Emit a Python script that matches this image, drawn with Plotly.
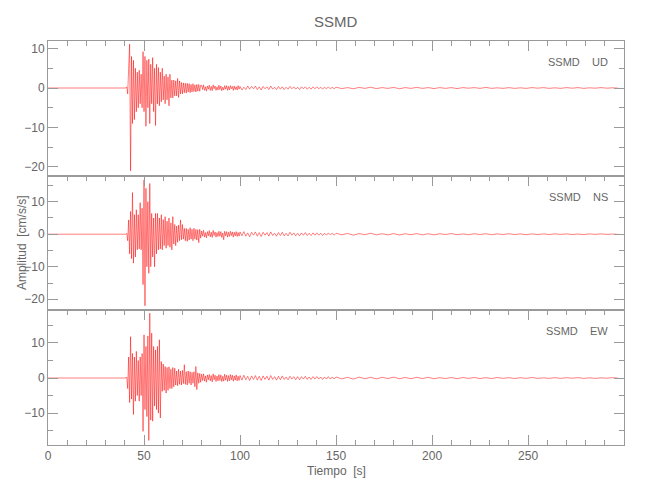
import numpy as np
import plotly.graph_objects as go

# ---------------- data ----------------
# Pre-event samples (time, value) – flat before the P arrival
t_pre = [0.0, 20.0, 40.5]
ud_pre = [0.0, 0.05, 0.0]
ns_pre = [0.0, -0.05, 0.0]
ew_pre = [0.0, 0.05, 0.0]

# Strong-motion part + early coda: samples every 0.5 s starting at 41.0 s
ud_fast = [0.3, -1.5, 5, 11.1, -21.0, 8, -9, 7, -8, 5,
           -6, 4, -5, 4.5, -4, 3.5, -5, 9.2, -6, 8,
           -9.7, 7, -5, 7.3, -9, 6, -4, 7.7, -6, 5,
           -9.5, 6, -4, 5.2, -4.5, 4, -3.5, 5, -3, 3,
           -4, 3.5, -3, 2.8, -4.5, 3.5, -2.5, 2, -2.5, 2,
           -2, 1.8, -2, 2.4, -2.4, 1.8, -1.5, 1.4, -1.5, 1.3,
           -1.2, 1.2, -1.3, 1.2, -1.0, 1.1, -1.2, 0.9, -1.0, 1.1,
           -0.9, 0.8, -1.0, 0.9, -0.8, 0.9, -0.8, 0.7,
           0.7, -0.4, 0.8, -0.6, 0.3, -0.8, 0.5, -0.3, 0.7, -0.6,
           0.4, -0.7, 0.8, -0.2, 0.5, -0.6, 0.3, -0.5, 0.7, -0.4,
           0.5, -0.7, 0.2, -0.5, 0.6, -0.3, 0.6, -0.6, 0.4, -0.5,
           0.6, -0.2, 0.4, -0.6, 0.5, -0.4, 0.3, -0.5, 0.6, -0.3]
ns_fast = [0.3, -2, 4.4, -6, 7, -7.5, 12.8, -8.9, 6, -7,
           7.5, -4.8, 6, -4.5, 9.7, -4.8, 8, -15.5, 16.7, -22.0,
           14.1, -10, 10, -12, 15.6, -10, 6.4, -7, 5, -10,
           6.4, -6, 6.4, -4.8, 5, -4.5, 6, -4.8, 4.5, -3.5,
           5.4, -4.3, 4, -3.5, 5, -4, 3.5, -4.8, 5.4, -3,
           3, -3.5, 2.5, -2.5, 2.8, -2, 4.4, -1.7, 3, -1.5,
           1.8, -2, 1.8, -2.2, 1.5, -1.8, 2, -1.5, 1.5, -2,
           1.8, -1.5, 1.5, -1.8, 1.4, -2.6, 1.5, -1.2,
           1.0, -0.6, 1.2, -0.9, 0.5, -1.1, 0.8, -0.5, 1.1, -0.8,
           0.6, -1.0, 1.2, -0.4, 0.7, -0.9, 0.5, -0.7, 0.9, -0.6,
           0.8, -1.0, 0.4, -1.7, 0.9, -0.5, 0.8, -0.9, 0.6, -0.7,
           0.9, -0.4, 0.7, -0.9, 0.6, -0.5, 0.8, -0.7, 0.5, -0.6]
ew_fast = [0.3, -3, 6, -7, 11.8, -6, 7, -10.4, 6, -6.6,
           7.6, -5, 5, -6.6, 6, -5, 7, -15.2, 12.3, -9,
           9, -11, 12, -17.8, 18.5, -12, 12.8, -12.3, 9, -8,
           8, -9, 9, -10, 10.9, -11.4, 4.7, -3.8, 4, -3.5,
           3.3, -4.3, 3, -3.5, 3.2, -3, 2.5, -3, 3, -2.5,
           2.8, -2, 2, -2.2, 2.5, -1.8, 2, -2, 2.2, -1.6,
           3.8, -1.8, 1.8, -2, 2, -1.5, 1.8, -2, 1.6, -1.5,
           1.8, -2.5, 3.3, -3.3, 1.5, -1.5, 1.3, -1.2,
           1.1, -0.7, 1.2, -0.9, 0.6, -1.2, 0.9, -0.5, 1.0, -0.8,
           0.7, -1.1, 1.2, -0.5, 0.8, -1.0, 0.6, -0.8, 1.0, -0.7,
           0.9, -1.0, 0.5, -0.9, 1.1, -0.6, 0.8, -1.0, 0.7, -0.8,
           1.0, -0.5, 0.8, -0.9, 0.6, -0.6, 0.9, -0.8, 0.5, -0.7]

# Coda: samples every 1 s starting at 100 s
ud_mid = [0.4, -0.5, 0.2, -0.4, 0.5, -0.3, 0.4, -0.2, 0.5, -0.4,
          0.3, -0.5, 0.4, -0.2, 0.3, -0.4, 0.5, -0.3, 0.2, -0.4,
          0.4, -0.3, 0.3, -0.4, 0.2, -0.3, 0.4, -0.2, 0.3, -0.3,
          0.2, -0.4, 0.3, -0.2, 0.3, -0.3, 0.2, -0.3, 0.3, -0.2,
          0.3, -0.2, 0.2, -0.3, 0.2, -0.2, 0.3, -0.2, 0.2, -0.2]
ns_mid = [0.7, -0.5, 0.8, -0.6, 0.4, -0.8, 0.6, -0.3, 0.7, -0.6,
          0.5, -0.7, 0.6, -0.3, 0.5, -0.6, 0.7, -0.4, 0.3, -0.6,
          0.5, -0.4, 0.6, -0.5, 0.3, -0.5, 0.6, -0.3, 0.4, -0.5,
          0.3, -0.5, 0.4, -0.3, 0.5, -0.4, 0.3, -0.4, 0.4, -0.3,
          0.4, -0.3, 0.3, -0.4, 0.3, -0.3, 0.4, -0.2, 0.3, -0.3]
ew_mid = [0.7, -0.6, 0.8, -0.5, 0.5, -0.7, 0.6, -0.4, 0.7, -0.6,
          0.5, -0.7, 0.6, -0.4, 0.5, -0.6, 0.7, -0.4, 0.4, -0.6,
          0.5, -0.5, 0.6, -0.4, 0.3, -0.5, 0.5, -0.3, 0.4, -0.5,
          0.4, -0.5, 0.4, -0.3, 0.5, -0.4, 0.3, -0.4, 0.4, -0.3,
          0.4, -0.3, 0.3, -0.4, 0.3, -0.3, 0.4, -0.3, 0.3, -0.3]

# Tail: samples every 3 s starting at 150 s
ud_tail = [0.2, -0.15, 0.1, -0.2, 0.15, -0.1, 0.2, -0.15, 0.1, -0.1,
           0.15, -0.2, 0.1, -0.1, 0.15, -0.1, 0.1, -0.15, 0.1, -0.1,
           0.1, -0.15, 0.1, -0.05, 0.1, -0.1, 0.15, -0.1, 0.05, -0.1,
           0.1, -0.1, 0.05, -0.1, 0.1, -0.05, 0.1, -0.1, 0.05, -0.1,
           0.1, -0.05, 0.1, -0.1, 0.05, -0.05, 0.1, -0.05, 0.05, -0.05]
ns_tail = [0.3, -0.2, 0.25, -0.3, 0.2, -0.15, 0.3, -0.2, 0.15, -0.2,
           0.2, -0.25, 0.15, -0.15, 0.2, -0.2, 0.15, -0.2, 0.15, -0.1,
           0.2, -0.15, 0.1, -0.15, 0.15, -0.1, 0.15, -0.15, 0.1, -0.1,
           0.15, -0.1, 0.1, -0.15, 0.1, -0.1, 0.1, -0.1, 0.1, -0.05,
           0.1, -0.1, 0.05, -0.1, 0.1, -0.05, 0.1, -0.05, 0.05, -0.05]
ew_tail = [0.3, -0.25, 0.2, -0.3, 0.25, -0.2, 0.2, -0.25, 0.2, -0.15,
           0.25, -0.2, 0.15, -0.2, 0.2, -0.15, 0.2, -0.2, 0.1, -0.15,
           0.15, -0.2, 0.15, -0.1, 0.15, -0.15, 0.1, -0.15, 0.15, -0.1,
           0.1, -0.15, 0.1, -0.1, 0.15, -0.1, 0.05, -0.1, 0.1, -0.1,
           0.1, -0.05, 0.1, -0.1, 0.05, -0.1, 0.05, -0.05, 0.1, -0.05]

components = ["UD", "NS", "EW"]
station = "SSMD"
y_ranges = [[-22.2, 11.9], [-23.4, 18.0], [-19.1, 19.3]]
x_ticks = [0, 50, 100, 150, 200, 250]


def build(pre, fast, mid, tail):
    t = (list(t_pre)
         + list(41.0 + 0.5 * np.arange(len(fast)))
         + list(100.0 + 1.0 * np.arange(len(mid)))
         + list(150.0 + 3.0 * np.arange(len(tail))))
    v = list(pre) + list(fast) + list(mid) + list(tail)
    return t, v


traces = [build(ud_pre, ud_fast, ud_mid, ud_tail),
          build(ns_pre, ns_fast, ns_mid, ns_tail),
          build(ew_pre, ew_fast, ew_mid, ew_tail)]

# ---------------- figure ----------------
GRAY = "#9a9a9a"
TXT = "#666666"
FONT = "Liberation Sans, Arial, sans-serif"

fig = go.Figure()
domains = [[2 / 3, 1.0], [1 / 3, 2 / 3], [0.0, 1 / 3]]

for i, (t, v) in enumerate(traces):
    n = i + 1
    xa = "x" if n == 1 else f"x{n}"
    ya = "y" if n == 1 else f"y{n}"
    fig.add_trace(go.Scatter(x=t, y=v, mode="lines", xaxis=xa, yaxis=ya,
                             line=dict(color="rgba(255,0,0,0.85)", width=0.6),
                             showlegend=False, hoverinfo="skip"))

    last = (n == 3)
    xkey = "xaxis" if n == 1 else f"xaxis{n}"
    ykey = "yaxis" if n == 1 else f"yaxis{n}"
    fig.layout[xkey] = dict(
        anchor=ya, domain=[0, 1], range=[0, 299.95],
        side="bottom" if last else "top",
        tickmode="array", tickvals=x_ticks,
        ticks="inside", ticklen=10, tickcolor=GRAY, tickwidth=1,
        minor=dict(dtick=10, tick0=0, ticks="inside", ticklen=5,
                   tickcolor=GRAY, showgrid=False),
        showline=True, linecolor=GRAY, linewidth=1,
        mirror="ticks" if last else True,
        showticklabels=last, showgrid=False, zeroline=False,
        tickfont=dict(family=FONT, size=12, color=TXT),
        matches=None if n == 1 else "x",
    )
    fig.layout[ykey] = dict(
        anchor=xa, domain=domains[i], range=y_ranges[i],
        tick0=0, dtick=10,
        ticks="inside", ticklen=10, tickcolor=GRAY, tickwidth=1,
        minor=dict(dtick=5, tick0=0, ticks="inside", ticklen=5,
                   tickcolor=GRAY, showgrid=False),
        showline=True, linecolor=GRAY, linewidth=1, mirror="ticks",
        showgrid=False, zeroline=False,
        tickfont=dict(family=FONT, size=12, color=TXT),
    )
    fig.add_annotation(
        text=f"{station}&nbsp;&nbsp;&nbsp;&nbsp;{components[i]}",
        xref="paper", yref="paper", x=0.976, y=domains[i][1],
        xanchor="right", yanchor="middle", yshift=-21, showarrow=False,
        font=dict(family=FONT, size=11, color=TXT))

fig.add_annotation(text="Amplitud&nbsp;&nbsp;[cm/s/s]", xref="paper", yref="paper",
                   x=-0.045, y=0.5, textangle=-90, showarrow=False,
                   xanchor="center", yanchor="middle",
                   font=dict(family=FONT, size=12, color=TXT))
fig.add_annotation(text="Tiempo&nbsp;&nbsp;[s]", xref="paper", yref="paper",
                   x=0.5, y=-0.064, showarrow=False,
                   xanchor="center", yanchor="middle",
                   font=dict(family=FONT, size=12, color=TXT))

# The page body adds an 8 px offset; margins compensate for it.
fig.update_layout(
    width=650, height=500,
    margin=dict(l=40, r=34, t=33, b=63),
    paper_bgcolor="white", plot_bgcolor="white",
    title=dict(text=station, x=0.504, xanchor="center", y=0.972,
               yanchor="middle",
               font=dict(family=FONT, size=15, color=TXT)),
)

fig.write_html("out.html")
